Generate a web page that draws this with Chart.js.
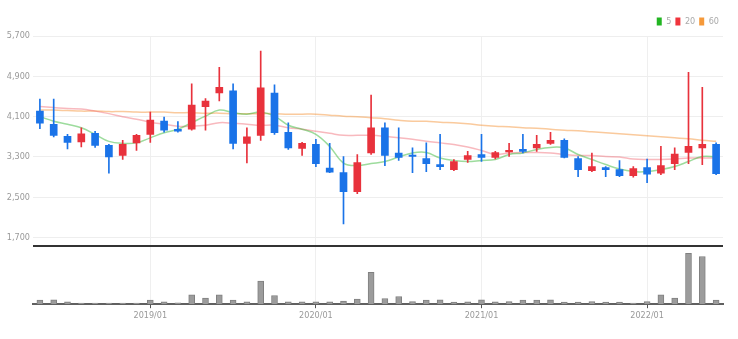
<!DOCTYPE html>
<html>
<head>
<meta charset="utf-8">
<script src="https://cdn.jsdelivr.net/npm/chart.js@4"></script>
<style>
  html, body { margin: 0; padding: 0; background: #fff; }
</style>
</head>
<body>
<canvas id="chart" width="738" height="339"></canvas>
<script>
const months = [
  '2018/05','2018/06','2018/07','2018/08','2018/09','2018/10','2018/11','2018/12',
  '2019/01','2019/02','2019/03','2019/04','2019/05','2019/06','2019/07','2019/08','2019/09','2019/10','2019/11','2019/12',
  '2020/01','2020/02','2020/03','2020/04','2020/05','2020/06','2020/07','2020/08','2020/09','2020/10','2020/11','2020/12',
  '2021/01','2021/02','2021/03','2021/04','2021/05','2021/06','2021/07','2021/08','2021/09','2021/10','2021/11','2021/12',
  '2022/01','2022/02','2022/03','2022/04','2022/05','2022/06'
];

const opens  = [4210,3950,3710,3600,3770,3530,3330,3580,3750,4010,3850,3850,4300,4570,4610,3570,3730,4570,3790,3470,
                3550,3080,2990,2610,3380,3880,3380,3340,3270,3150,3050,3250,3350,3290,3400,3450,3480,3570,3630,3270,
                3030,3090,3050,2930,3090,2980,3170,3390,3480,3550];
const highs  = [4450,4450,3750,3880,3810,3550,3630,3750,4190,4090,4000,4750,4460,5080,4750,3880,5400,4730,3980,3590,
                3650,3570,3310,3350,4530,3980,3880,3480,3580,3750,3250,3410,3750,3410,3570,3750,3730,3790,3660,3310,
                3380,3110,3230,3110,3260,3510,3480,4980,4680,3580];
const lows   = [3860,3700,3460,3500,3490,2980,3250,3430,3590,3790,3790,3830,3830,4410,3460,3180,3630,3750,3450,3330,
                3110,2990,1970,2570,3350,3130,3230,2990,3010,3050,3030,3190,3210,3260,3310,3380,3410,3550,3280,2910,
                3010,2910,2910,2900,2790,2950,3050,3170,3150,2950];
const closes = [3970,3730,3590,3760,3530,3300,3550,3730,4030,3830,3810,4330,4410,4680,3570,3700,4670,3780,3480,3570,
                3170,3000,2610,3190,3880,3330,3290,3310,3170,3110,3210,3330,3290,3390,3430,3410,3550,3630,3290,3050,
                3110,3050,2930,3070,2960,3130,3360,3510,3550,2970];

const ma5  = [4100,4010,3950,3880,3750,3610,3570,3580,3680,3780,3850,3980,4110,4230,4180,4150,4190,4110,3930,3850,
              3750,3510,3180,3130,3170,3210,3300,3380,3390,3280,3230,3210,3230,3250,3350,3380,3450,3490,3480,3350,
              3250,3150,3060,3010,3010,3050,3110,3210,3310,3300];
const ma20 = [4300,4280,4260,4250,4210,4160,4100,4050,3990,3950,3910,3910,3930,3980,3970,3950,3930,3930,3880,3850,
              3810,3770,3730,3730,3730,3710,3680,3650,3610,3580,3550,3500,3430,3350,3380,3390,3390,3380,3350,3330,
              3330,3310,3300,3260,3250,3250,3260,3280,3280,3280];
const ma60 = [4230,4230,4220,4210,4210,4200,4200,4190,4190,4190,4180,4180,4170,4170,4160,4160,4160,4160,4150,4150,
              4150,4130,4110,4100,4080,4060,4030,4010,4010,3990,3980,3960,3930,3910,3900,3880,3870,3850,3830,3820,
              3800,3780,3760,3740,3720,3700,3680,3660,3630,3610];

// volume, thousand shares
const volumes = [120,130,70,30,30,30,30,30,120,70,40,280,180,280,120,70,690,260,70,70,
                 70,70,90,150,950,170,230,80,120,130,60,70,130,70,80,120,120,130,60,60,
                 80,60,60,30,80,280,180,1510,1420,120];

const priceTicks = [1700, 2500, 3300, 4100, 4900, 5700];
const maLabels = ['5', '20', '60'];

const UP = '#e8323c';
const DOWN = '#1a73e8';
const FONT = "'Liberation Sans Narrow', 'DejaVu Sans Condensed', 'Roboto', sans-serif";

const candleColors = opens.map((o, i) => closes[i] >= o ? UP : DOWN);
const isYearStart = i => months[i] && months[i].endsWith('/01');

const legendColors = ['#22b522', '#f0343c', '#f5993a'];

const ctx = document.getElementById('chart').getContext('2d');
new Chart(ctx, {
  type: 'bar',
  data: {
    labels: months,
    datasets: [
      { type: 'line', label: maLabels[0], data: ma5, yAxisID: 'y', borderColor: 'rgba(60,185,60,0.5)',
        borderWidth: 1.5, pointRadius: 0, tension: 0.4, order: 5 },
      { type: 'line', label: maLabels[1], data: ma20, yAxisID: 'y', borderColor: 'rgba(240,100,110,0.45)',
        borderWidth: 1.5, pointRadius: 0, tension: 0.4, order: 6 },
      { type: 'line', label: maLabels[2], data: ma60, yAxisID: 'y', borderColor: 'rgba(245,150,60,0.5)',
        borderWidth: 1.5, pointRadius: 0, tension: 0.4, order: 7 },
      { label: 'wick', data: lows.map((l, i) => [l, highs[i]]), yAxisID: 'y',
        backgroundColor: candleColors, barThickness: 1, grouped: false, order: 2 },
      { label: 'body', data: opens.map((o, i) => [o, closes[i]]), yAxisID: 'y',
        backgroundColor: candleColors, barThickness: 7, minBarLength: 1, grouped: false, order: 1 },
      { label: 'volume', data: volumes, yAxisID: 'yv',
        backgroundColor: '#9c9c9c', borderColor: '#808080', borderWidth: 1,
        barThickness: 6, grouped: false, order: 3 },
    ],
  },
  options: {
    responsive: false,
    animation: false,
    layout: { padding: { top: 13, right: 15, bottom: 16, left: 0 } },
    plugins: {
      tooltip: { enabled: false },
      legend: {
        position: 'top',
        align: 'end',
        labels: {
          boxWidth: 5,
          boxHeight: 8,
          padding: 4,
          color: '#aaa',
          font: { family: FONT, size: 9 },
          generateLabels: () => maLabels.map((t, i) => ({
            text: t, fillStyle: legendColors[i], strokeStyle: legendColors[i], lineWidth: 0,
            fontColor: '#aaa', datasetIndex: i,
          })),
        },
      },
    },
    scales: {
      x: {
        offset: true,
        grid: {
          offset: false,
          color: c => isYearStart(c.index) ? '#efefef' : 'transparent',
          tickColor: c => isYearStart(c.index) ? '#555' : 'transparent',
          tickLength: 4,
        },
        border: { color: '#606060', width: 2 },
        ticks: {
          autoSkip: false,
          maxRotation: 0,
          padding: 2,
          color: '#999',
          font: { family: FONT, size: 9 },
          callback: (v, i) => isYearStart(i) ? months[i] : '',
        },
      },
      yv: {
        position: 'left',
        stack: 'main',
        stackWeight: 58,
        min: 0,
        max: 1740,
        afterBuildTicks: s => { s.ticks = [{ value: 1740 }]; },
        afterFit: s => { s.width = 33; },
        grid: { color: '#333', lineWidth: 2, drawTicks: false },
        border: { display: false },
        ticks: { display: false },
      },
      y: {
        position: 'left',
        stack: 'main',
        stackWeight: 208,
        min: 1540,
        max: 5700,
        afterBuildTicks: s => { s.ticks = priceTicks.map(v => ({ value: v })); },
        afterFit: s => { s.width = 33; },
        grid: { color: '#eeeeee', drawTicks: false },
        border: { display: false },
        ticks: {
          padding: 3,
          color: '#999',
          font: { family: FONT, size: 9 },
          callback: v => v.toLocaleString('en-US'),
        },
      },
    },
  },
});
</script>
</body>
</html>
